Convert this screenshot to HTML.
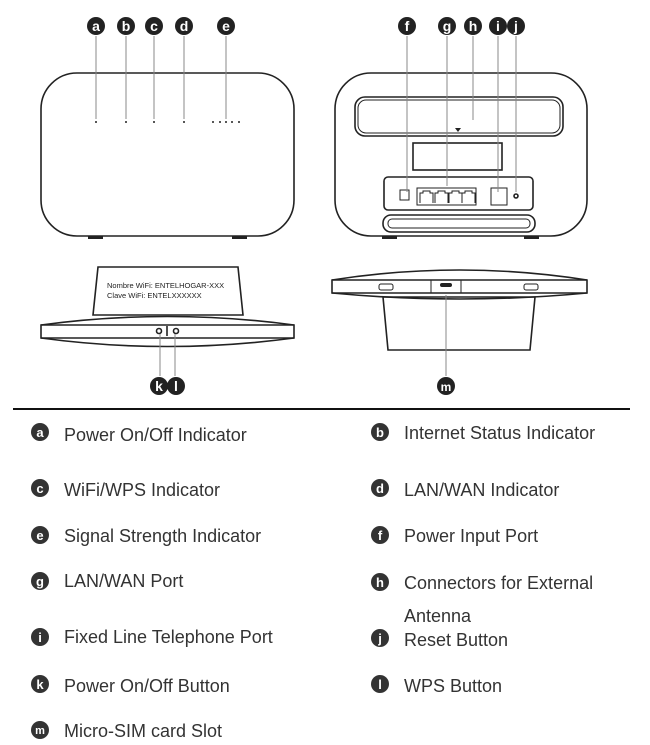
<!DOCTYPE html>
<html><head><meta charset="utf-8"><style>
html,body{margin:0;padding:0;background:#fff;overflow:hidden;}
svg{display:block}
text{font-family:"Liberation Sans",sans-serif;}
</style></head><body>
<svg width="650" height="745" viewBox="0 0 650 745" xmlns="http://www.w3.org/2000/svg">
<g fill="none" stroke="#222" stroke-width="1.6">
<rect x="41" y="73" width="253" height="163" rx="36"/>
<line x1="96" y1="36" x2="96" y2="119" stroke="#888" stroke-width="1"/>
<line x1="126" y1="36" x2="126" y2="119" stroke="#888" stroke-width="1"/>
<line x1="154" y1="36" x2="154" y2="119" stroke="#888" stroke-width="1"/>
<line x1="184" y1="36" x2="184" y2="119" stroke="#888" stroke-width="1"/>
<line x1="226" y1="36" x2="226" y2="119" stroke="#888" stroke-width="1"/>
<rect x="335" y="73" width="252" height="163" rx="36"/>
<rect x="355" y="97" width="208" height="39" rx="10"/>
<rect x="358" y="100" width="202" height="33" rx="8" stroke-width="1"/>
<rect x="413" y="143" width="89" height="27"/>
<rect x="384" y="177" width="149" height="33" rx="4"/>
<rect x="400" y="190" width="9" height="10" stroke-width="1"/>
<rect x="417" y="188" width="59" height="17" stroke-width="1"/>
<path d="M420 203 v-10 h3 v-2 h7 v2 h3 v10 M435 203 v-10 h3 v-2 h7 v2 h3 v10 M449 203 v-10 h3 v-2 h7 v2 h3 v10 M462 203 v-10 h3 v-2 h7 v2 h3 v10" stroke-width="1"/>
<rect x="491" y="188" width="16" height="17" stroke-width="1"/>
<circle cx="516" cy="196" r="2"/>
<rect x="383" y="215" width="152" height="17" rx="8"/>
<rect x="388" y="219" width="142" height="9" rx="4" stroke-width="1"/>
<line x1="407" y1="36" x2="407" y2="192" stroke="#888" stroke-width="1"/>
<line x1="447" y1="36" x2="447" y2="186" stroke="#888" stroke-width="1"/>
<line x1="473" y1="36" x2="473" y2="120" stroke="#888" stroke-width="1"/>
<line x1="498" y1="36" x2="498" y2="192" stroke="#888" stroke-width="1"/>
<line x1="516" y1="36" x2="516" y2="192" stroke="#888" stroke-width="1"/>
<path d="M98 267 L238 267 L243 315 L93 315 Z"/>
<path d="M41 325 Q167 308 294 325 L294 338 Q167 355 41 338 Z"/>
<line x1="41" y1="325" x2="294" y2="325"/>
<line x1="41" y1="338" x2="294" y2="338"/>
<line x1="167" y1="326" x2="167" y2="336"/>
<circle cx="159" cy="331" r="2.5"/><circle cx="176" cy="331" r="2.5"/>
<line x1="160" y1="334" x2="160" y2="376" stroke="#888" stroke-width="1"/>
<line x1="175" y1="334" x2="175" y2="376" stroke="#888" stroke-width="1"/>
<path d="M332 280 Q460 260 587 280 L587 293 Q460 305 332 293 Z"/>
<line x1="332" y1="280" x2="587" y2="280"/>
<line x1="332" y1="293" x2="587" y2="293"/>
<path d="M383 297 L535 297 L530 350 L388 350 Z"/>
<rect x="431" y="280" width="30" height="13" stroke-width="1"/>
<rect x="379" y="284" width="14" height="6" rx="2" stroke-width="1"/>
<rect x="524" y="284" width="14" height="6" rx="2" stroke-width="1"/>
<line x1="446" y1="295" x2="446" y2="376" stroke="#888" stroke-width="1"/>
</g>
<g fill="#222">
<rect x="88" y="236" width="15" height="3"/><rect x="232" y="236" width="15" height="3"/>
<rect x="382" y="236" width="15" height="3"/><rect x="524" y="236" width="15" height="3"/>
<circle cx="96" cy="122" r="1"/><circle cx="126" cy="122" r="1"/><circle cx="154" cy="122" r="1"/><circle cx="184" cy="122" r="1"/>
<circle cx="213" cy="122" r="1"/><circle cx="220" cy="122" r="1"/><circle cx="226" cy="122" r="1"/><circle cx="232" cy="122" r="1"/><circle cx="239" cy="122" r="1"/>
<path d="M455 128 l6 0 l-3 4z"/>
<rect x="440" y="283" width="12" height="4" rx="2"/>
</g>
<g font-weight="bold" font-size="14" text-anchor="middle">
<g fill="#222">
<circle cx="96" cy="26" r="9"/><circle cx="126" cy="26" r="9"/><circle cx="154" cy="26" r="9"/><circle cx="184" cy="26" r="9"/><circle cx="226" cy="26" r="9"/>
<circle cx="407" cy="26" r="9"/><circle cx="447" cy="26" r="9"/><circle cx="473" cy="26" r="9"/><circle cx="498" cy="26" r="9"/><circle cx="516" cy="26" r="9"/>
<circle cx="159" cy="386" r="9"/><circle cx="176" cy="386" r="9"/><circle cx="446" cy="386" r="9"/>
</g>
<g fill="#fff">
<text x="96" y="31">a</text><text x="126" y="31">b</text><text x="154" y="31">c</text><text x="184" y="31">d</text><text x="226" y="31">e</text>
<text x="407" y="31">f</text><text x="447" y="31">g</text><text x="473" y="31">h</text><text x="498" y="31">i</text><text x="516" y="31">j</text>
<text x="159" y="391">k</text><text x="176" y="391">l</text><text x="446" y="391" font-size="12">m</text>
</g>
</g>
<text x="107" y="288" font-size="7.5" fill="#222">Nombre WiFi: ENTELHOGAR-XXX</text>
<text x="107" y="298" font-size="7.5" fill="#222">Clave WiFi: ENTELXXXXXX</text>
<line x1="13" y1="409" x2="630" y2="409" stroke="#111" stroke-width="2"/>
<g font-weight="bold" font-size="13" text-anchor="middle">
<g fill="#333">
<circle cx="40" cy="432" r="9"/><circle cx="380" cy="432" r="9"/>
<circle cx="40" cy="488" r="9"/><circle cx="380" cy="488" r="9"/>
<circle cx="40" cy="535" r="9"/><circle cx="380" cy="535" r="9"/>
<circle cx="40" cy="581" r="9"/><circle cx="380" cy="582" r="9"/>
<circle cx="40" cy="637" r="9"/><circle cx="380" cy="638" r="9"/>
<circle cx="40" cy="684" r="9"/><circle cx="380" cy="684" r="9"/>
<circle cx="40" cy="730" r="9"/>
</g>
<g fill="#fff">
<text x="40" y="437">a</text><text x="380" y="437">b</text>
<text x="40" y="493">c</text><text x="380" y="493">d</text>
<text x="40" y="540">e</text><text x="380" y="540">f</text>
<text x="40" y="586">g</text><text x="380" y="587">h</text>
<text x="40" y="642">i</text><text x="380" y="643">j</text>
<text x="40" y="689">k</text><text x="380" y="689">l</text>
<text x="40" y="734" font-size="11">m</text>
</g>
</g>
<g fill="#333" font-size="18">
<text x="64" y="441">Power On/Off Indicator</text>
<text x="404" y="439">Internet Status Indicator</text>
<text x="64" y="496">WiFi/WPS Indicator</text>
<text x="404" y="496">LAN/WAN Indicator</text>
<text x="64" y="542">Signal Strength Indicator</text>
<text x="404" y="542">Power Input Port</text>
<text x="64" y="587">LAN/WAN Port</text>
<text x="404" y="589">Connectors for External</text>
<text x="404" y="622">Antenna</text>
<text x="64" y="643">Fixed Line Telephone Port</text>
<text x="404" y="646">Reset Button</text>
<text x="64" y="692">Power On/Off Button</text>
<text x="404" y="692">WPS Button</text>
<text x="64" y="737">Micro-SIM card Slot</text>
</g>
</svg>
</body></html>
